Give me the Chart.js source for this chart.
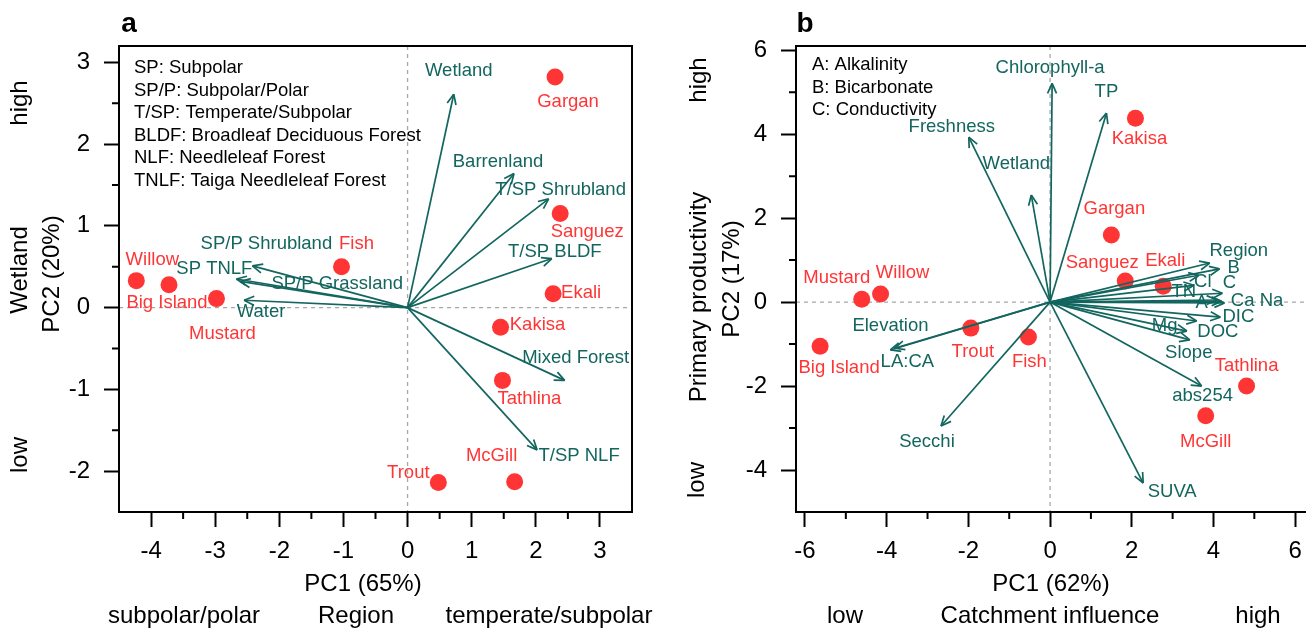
<!DOCTYPE html>
<html>
<head>
<meta charset="utf-8">
<script src="https://cdn.jsdelivr.net/npm/chart.js@4.4.1/dist/chart.umd.min.js"></script>
<style>
  html, body { margin: 0; padding: 0; background: #fff; overflow: hidden; width: 1306px; height: 628px; }
  canvas { position: absolute; top: 0; }
  #chartA { left: 0; }
  #chartB { left: 660px; }
</style>
</head>
<body>
<canvas id="chartA" width="660" height="628"></canvas>
<canvas id="chartB" width="660" height="628"></canvas>
<script>
// ---- panel a: land cover PCA ----
const sitesA = ["Gargan", "Sanguez", "Ekali", "Kakisa", "Tathlina", "McGill", "Trout", "Fish", "Willow", "Big Island", "Mustard"];
const sitePc1A = [2.30, 2.38, 2.27, 1.45, 1.48, 1.67, 0.48, -1.03, -4.23, -3.72, -2.98];
const sitePc2A = [2.82, 1.15, 0.17, -0.24, -0.89, -2.13, -2.14, 0.50, 0.33, 0.28, 0.11];
const varsA = ["Wetland", "Barrenland", "T/SP Shrubland", "T/SP BLDF", "Mixed Forest", "T/SP NLF", "SP/P Shrubland", "SP TNLF", "SP/P Grassland", "Water"];
const varPc1A = [0.72, 1.66, 2.20, 2.25, 2.45, 2.02, -2.42, -2.67, -2.61, -2.55];
const varPc2A = [2.61, 1.64, 1.33, 0.60, -0.89, -1.74, 0.51, 0.35, 0.32, 0.09];
const xTicksA = [-4, -3, -2, -1, 0, 1, 2, 3];
const yTicksA = [-2, -1, 0, 1, 2, 3];
const legendA = ["SP: Subpolar", "SP/P: Subpolar/Polar", "T/SP: Temperate/Subpolar", "BLDF: Broadleaf Deciduous Forest", "NLF: Needleleaf Forest", "TNLF: Taiga Needleleaf Forest"];

// ---- panel b: water chemistry PCA ----
const sitesB = ["Kakisa", "Gargan", "Sanguez", "Ekali", "Mustard", "Willow", "Big Island", "Trout", "Fish", "Tathlina", "McGill"];
const sitePc1B = [2.09, 1.50, 1.84, 2.77, -4.61, -4.15, -5.63, -1.94, -0.53, 4.81, 3.81];
const sitePc2B = [4.38, 1.60, 0.50, 0.38, 0.07, 0.19, -1.05, -0.62, -0.83, -2.00, -2.71];
const varsB = ["Chlorophyll-a", "TP", "Freshness", "Wetland", "Region", "B", "Cl", "TN", "C", "Ca", "Na", "A", "DIC", "Mg", "DOC", "Slope", "abs254", "SUVA", "Secchi", "Elevation", "LA:CA"];
const varPc1B = [0.05, 1.38, -1.99, -0.46, 3.91, 4.15, 3.64, 3.52, 4.22, 4.20, 4.27, 4.08, 4.17, 3.59, 3.35, 3.42, 3.71, 2.28, -2.67, -3.81, -3.91];
const varPc2B = [5.21, 4.50, 3.93, 2.55, 0.93, 0.79, 0.64, 0.40, 0.21, 0.02, -0.02, 0.05, -0.36, -0.45, -0.69, -0.90, -2.00, -4.31, -2.95, -1.10, -1.14];
const xTicksB = [-6, -4, -2, 0, 2, 4, 6];
const yTicksB = [-4, -2, 0, 2, 4, 6];
const legendB = ["A: Alkalinity", "B: Bicarbonate", "C: Conductivity"];

// label placement (pixel shift from the mark)
const siteShiftA = {
  "Gargan": [13, 25], "Sanguez": [27, 18], "Ekali": [28, -1], "Kakisa": [37, -2], "Tathlina": [27, 19],
  "McGill": [-23, -26], "Trout": [-30, -10], "Fish": [15, -23], "Willow": [16, -21], "Big Island": [-2, 18], "Mustard": [6, 35]
};
const varShiftA = {
  "Wetland": [5, -23], "Barrenland": [-16, -12], "T/SP Shrubland": [12, -9], "T/SP BLDF": [3, -7],
  "Mixed Forest": [11, -22], "T/SP NLF": [42, 6], "SP/P Shrubland": [14, -22], "SP TNLF": [-22, -10],
  "SP/P Grassland": [97, 2], "Water": [17, 12]
};
const siteShiftB = {
  "Kakisa": [4, 21], "Gargan": [3, -26], "Sanguez": [-23, -18], "Ekali": [2, -25], "Mustard": [-25, -21],
  "Willow": [22, -21], "Big Island": [19, 22], "Trout": [2, 24], "Fish": [1, 25], "Tathlina": [0, -20], "McGill": [0, 26]
};
const varShiftB = {
  "Chlorophyll-a": [-2, -15], "TP": [0, -21], "Freshness": [-17, -10], "Wetland": [-15, -31],
  "Region": [29, -12], "B": [14, -1], "Cl": [4, 7], "TN": [-10, 7], "C": [7, -10], "Ca": [21, 0], "Na": [47, -2],
  "A": [-15, 3], "DIC": [18, 0], "Mg": [-32, 5], "DOC": [31, 1], "Slope": [-1, 13], "abs254": [1, 10],
  "SUVA": [29, 9], "Secchi": [-14, 16], "Elevation": [-4, -22], "LA:CA": [17, 12]
};

const FONT = '"Liberation Sans", Arial, Helvetica, sans-serif';
const RED = "#ff3535";
const TEAL = "#13665f";

function biplotPlugin(p) {
  return {
    id: "biplot",
    beforeDatasetsDraw(chart) {
      const { ctx, chartArea: a, scales: { x, y } } = chart;
      const x0 = x.getPixelForValue(0), y0 = y.getPixelForValue(0);
      ctx.save();
      ctx.strokeStyle = "#a8a8a8";
      ctx.lineWidth = 1.3;
      ctx.setLineDash([4, 4]);
      ctx.beginPath();
      ctx.moveTo(x0, a.top); ctx.lineTo(x0, a.bottom);
      ctx.moveTo(a.left, y0); ctx.lineTo(a.right, y0);
      ctx.stroke();
      ctx.restore();
    },
    afterDatasetsDraw(chart) {
      const ctx = chart.ctx;
      ctx.save();
      ctx.font = "18.5px " + FONT;
      ctx.textAlign = "center";
      ctx.textBaseline = "middle";
      chart.data.datasets.forEach((ds, i) => {
        const meta = chart.getDatasetMeta(i);
        if (ds.kind === "arrow") {
          const o = meta.data[0], t = meta.data[1];
          const ang = Math.atan2(t.y - o.y, t.x - o.x);
          ctx.strokeStyle = TEAL;
          ctx.lineWidth = 1.7;
          ctx.beginPath();
          [-0.42, 0.42].forEach(d => {
            ctx.moveTo(t.x, t.y);
            ctx.lineTo(t.x - 11 * Math.cos(ang + d), t.y - 11 * Math.sin(ang + d));
          });
          ctx.stroke();
          const s = p.varShift[ds.label] || [0, 0];
          ctx.fillStyle = TEAL;
          ctx.fillText(ds.label, t.x + s[0], t.y + s[1]);
        } else if (ds.kind === "sites") {
          ctx.fillStyle = RED;
          meta.data.forEach((pt, j) => {
            const name = ds.names[j];
            const s = p.siteShift[name] || [0, 0];
            ctx.fillText(name, pt.x + s[0], pt.y + s[1]);
          });
        }
      });
      ctx.restore();
    },
    afterDraw(chart) {
      const { ctx, chartArea: a, scales: { x, y } } = chart;
      ctx.save();
      ctx.strokeStyle = "#000";
      ctx.lineWidth = 2;
      ctx.strokeRect(a.left, a.top, a.right - a.left, a.bottom - a.top);
      ctx.beginPath();
      p.xMinor.forEach(v => {
        const px = x.getPixelForValue(v);
        ctx.moveTo(px, a.bottom); ctx.lineTo(px, a.bottom + 7);
      });
      p.yMinor.forEach(v => {
        const py = y.getPixelForValue(v);
        ctx.moveTo(a.left, py); ctx.lineTo(a.left - 7, py);
      });
      ctx.stroke();
      // legend of abbreviations
      ctx.fillStyle = "#000";
      ctx.font = "18.5px " + FONT;
      ctx.textAlign = "left";
      ctx.textBaseline = "middle";
      p.legend.forEach((t, k) => ctx.fillText(t, p.legendX, p.legendY + k * 22.5));
      // margin texts
      p.texts.forEach(t => {
        ctx.save();
        ctx.font = (t.bold ? "bold " : "") + (t.size || 24) + "px " + FONT;
        ctx.textAlign = "center";
        ctx.textBaseline = "middle";
        ctx.translate(t.x, t.y);
        if (t.rot) ctx.rotate(-Math.PI / 2);
        ctx.fillText(t.text, 0, 0);
        ctx.restore();
      });
      ctx.restore();
    }
  };
}

function makeBiplot(id, p) {
  const datasets = p.vars.map((v, i) => ({
    kind: "arrow",
    label: v,
    data: [{ x: 0, y: 0 }, { x: p.varX[i], y: p.varY[i] }],
    showLine: true,
    borderColor: TEAL,
    borderWidth: 1.7,
    pointRadius: 0,
    pointHoverRadius: 0
  }));
  datasets.push({
    kind: "sites",
    label: "sites",
    names: p.sites,
    data: p.sites.map((s, i) => ({ x: p.siteX[i], y: p.siteY[i] })),
    pointRadius: 8.5,
    pointBackgroundColor: RED,
    pointBorderWidth: 0,
    showLine: false
  });

  const tickFont = { family: FONT, size: 24 };
  new Chart(document.getElementById(id), {
    type: "scatter",
    data: { datasets },
    options: {
      responsive: false,
      animation: false,
      devicePixelRatio: 1,
      layout: { padding: { left: 0, right: p.padRight, top: 46, bottom: 0 } },
      plugins: { legend: { display: false }, tooltip: { enabled: false } },
      scales: {
        x: {
          type: "linear",
          min: p.xMin, max: p.xMax,
          afterBuildTicks: s => { s.ticks = p.xTicks.map(v => ({ value: v })); },
          afterFit: s => { s.height = 116; },
          grid: { drawOnChartArea: false, drawTicks: true, tickLength: 15, tickColor: "#000", tickWidth: 2 },
          border: { display: true, color: "#000", width: 2 },
          ticks: { color: "#000", font: tickFont, padding: 10, maxRotation: 0, autoSkip: false, callback: v => String(v) }
        },
        y: {
          type: "linear",
          min: p.yMin, max: p.yMax,
          afterBuildTicks: s => { s.ticks = p.yTicks.map(v => ({ value: v })); },
          afterFit: s => { s.width = p.yAxisWidth; },
          grid: { drawOnChartArea: false, drawTicks: true, tickLength: 15, tickColor: "#000", tickWidth: 2 },
          border: { display: true, color: "#000", width: 2 },
          ticks: { color: "#000", font: tickFont, padding: 14, autoSkip: false, callback: v => String(v) }
        }
      }
    },
    plugins: [biplotPlugin(p)]
  });
}

makeBiplot("chartA", {
  sites: sitesA, siteX: sitePc1A, siteY: sitePc2A,
  vars: varsA, varX: varPc1A, varY: varPc2A,
  xTicks: xTicksA, yTicks: yTicksA,
  xMin: -4.5, xMax: 3.5, yMin: -2.5, yMax: 3.2,
  xMinor: [-3.5, -2.5, -1.5, -0.5, 0.5, 1.5, 2.5],
  yMinor: [-1.5, -0.5, 0.5, 1.5, 2.5],
  yAxisWidth: 119, padRight: 28,
  siteShift: siteShiftA, varShift: varShiftA,
  legend: legendA, legendX: 134, legendY: 68,
  texts: [
    { text: "a", x: 129, y: 24, size: 28, bold: true },
    { text: "high", x: 20, y: 103, rot: true },
    { text: "Wetland", x: 20, y: 270, rot: true },
    { text: "PC2 (20%)", x: 52, y: 274, rot: true },
    { text: "low", x: 20, y: 455, rot: true },
    { text: "PC1 (65%)", x: 363, y: 584 },
    { text: "subpolar/polar", x: 184, y: 616 },
    { text: "Region", x: 356, y: 616 },
    { text: "temperate/subpolar", x: 549, y: 616 }
  ]
});

makeBiplot("chartB", {
  sites: sitesB, siteX: sitePc1B, siteY: sitePc2B,
  vars: varsB, varX: varPc1B, varY: varPc2B,
  xTicks: xTicksB, yTicks: yTicksB,
  xMin: -6.22, xMax: 6.4, yMin: -5, yMax: 6.1,
  xMinor: [-5, -3, -1, 1, 3, 5],
  yMinor: [-3, -1, 1, 3, 5],
  yAxisWidth: 136, padRight: 4,
  siteShift: siteShiftB, varShift: varShiftB,
  legend: legendB, legendX: 152, legendY: 65,
  texts: [
    { text: "b", x: 145, y: 24, size: 28, bold: true },
    { text: "high", x: 39, y: 80, rot: true },
    { text: "Primary productivity", x: 39, y: 297, rot: true },
    { text: "PC2 (17%)", x: 72, y: 279, rot: true },
    { text: "low", x: 37, y: 480, rot: true },
    { text: "PC1 (62%)", x: 391, y: 584 },
    { text: "low", x: 185, y: 616 },
    { text: "Catchment influence", x: 390, y: 616 },
    { text: "high", x: 598, y: 616 }
  ]
});
</script>
</body>
</html>
